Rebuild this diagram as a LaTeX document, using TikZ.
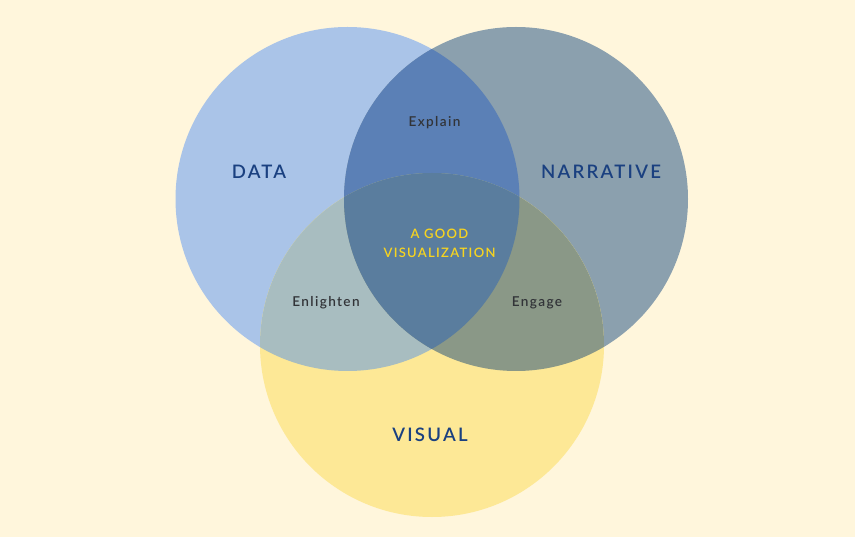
\documentclass[tikz,border=0pt]{standalone}
\usepackage{fontspec}
\setmainfont{Lato}
\newfontfamily\bigfont[LetterSpace=12]{Lato Semibold}
\newfontfamily\smallfont[LetterSpace=10]{Lato Semibold}
\definecolor{bgC}{RGB}{255,246,220}
\definecolor{dataC}{RGB}{170,196,232}
\definecolor{narrC}{RGB}{139,160,174}
\definecolor{visC}{RGB}{253,232,150}
\definecolor{dnC}{RGB}{91,128,182}
\definecolor{dvC}{RGB}{168,189,192}
\definecolor{nvC}{RGB}{138,152,135}
\definecolor{dnvC}{RGB}{90,125,158}
\definecolor{titleC}{RGB}{26,64,128}
\definecolor{labC}{RGB}{50,52,56}
\definecolor{goldC}{RGB}{247,212,32}
\tikzset{
  bigl/.style={font=\bigfont\fontsize{18.6}{22}\selectfont, text=titleC, inner sep=0pt},
  smalll/.style={font=\smallfont\fontsize{13.6}{16}\selectfont, text=labC, inner sep=0pt},
  centerl/.style={font=\smallfont\fontsize{13}{19}\selectfont, text=goldC, inner sep=0pt, align=center},
}
\begin{document}
\begin{tikzpicture}[x=1pt,y=-1pt]
\useasboundingbox (0,0) rectangle (855,537);
\fill[bgC] (0,0) rectangle (855,537);
\coordinate (D) at (347.5,199);
\coordinate (N) at (516,199);
\coordinate (V) at (432,345);
\def\R{172pt}
\fill[dataC] (D) circle (\R);
\fill[narrC] (N) circle (\R);
\fill[visC] (V) circle (\R);
\begin{scope}\clip (D) circle (\R); \fill[dnC] (N) circle (\R); \end{scope}
\begin{scope}\clip (D) circle (\R); \fill[dvC] (V) circle (\R); \end{scope}
\begin{scope}\clip (N) circle (\R); \fill[nvC] (V) circle (\R); \end{scope}
\begin{scope}\clip (D) circle (\R); \clip (N) circle (\R); \fill[dnvC] (V) circle (\R); \end{scope}
\node[bigl] (data) at (259,172) {DATA};
\node[bigl] (narr) at (601,172) {NARRATIVE};
\node[bigl] (vis) at (430,435) {VISUAL};
\node[smalll] (explain) at (434.5,122.5) {Explain};
\node[smalll] (enlighten) at (326,302.5) {Enlighten};
\node[smalll] (engage) at (537,302.5) {Engage};
\node[centerl] (good) at (439.5,243.5) {A GOOD\\VISUALIZATION};
\end{tikzpicture}
\end{document}
